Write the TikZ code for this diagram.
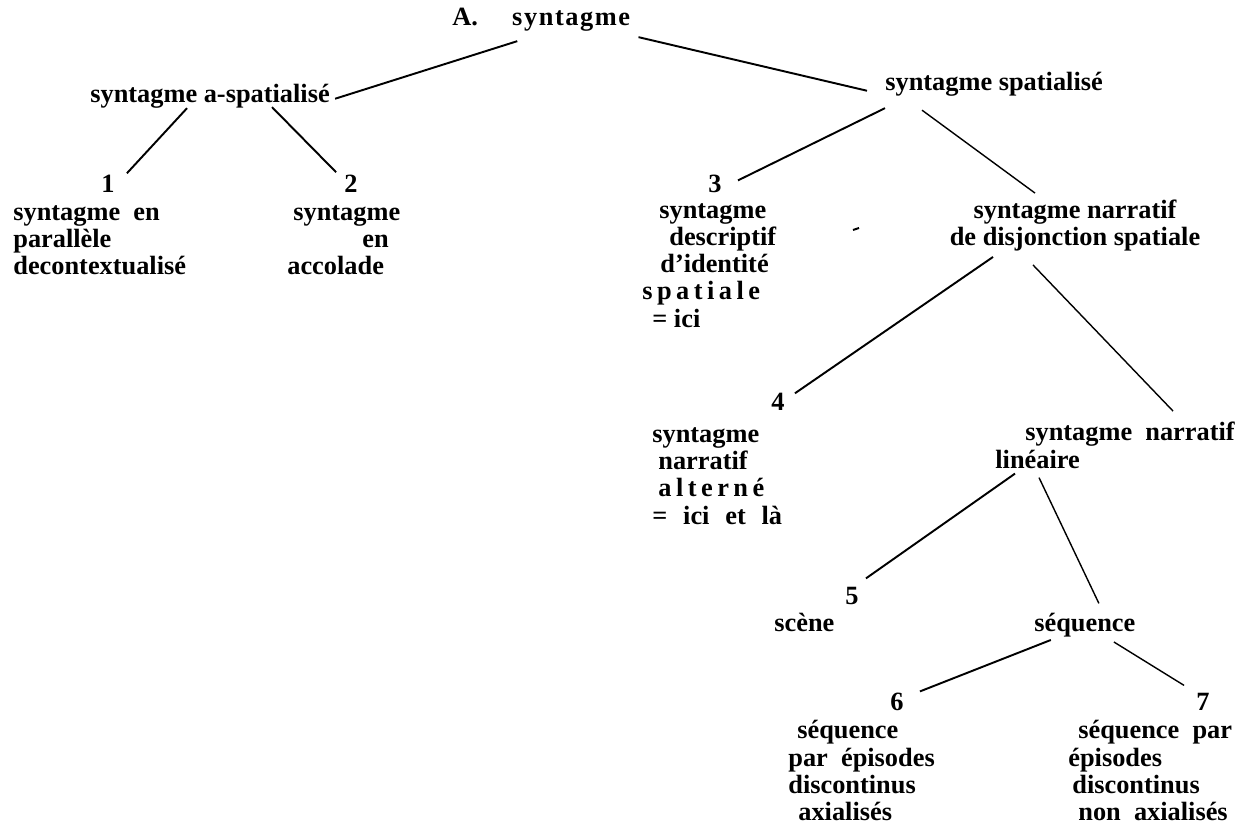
\documentclass[tikz,border=0pt]{standalone}
\usepackage{fontspec}
\setmainfont{Liberation Serif}
\usetikzlibrary{calc}
\newlength\pxu
\setlength\pxu{0.02cm}
\newcommand\widegap{\hspace{0.5em}}

\begin{document}
\begin{tikzpicture}[
    x=0.02cm, y=-0.02cm,
    lbl/.style={font=\fontsize{15}{15.37}\selectfont\bfseries, inner sep=0pt},
    link/.style={line width=1.1pt},
    thinlink/.style={line width=0.8pt}
]
\useasboundingbox (0,0) rectangle (1246,827);

% upper levels
\node[lbl, anchor=base west] (root) at (452,26) {A.\hspace{1.3em}{\addfontfeature{LetterSpace=6}syntagme}};
\node[lbl, anchor=base west] (asp) at (90,103) {syntagme a-spatialisé};
\node[lbl, anchor=base west] (sp) at (885,91) {syntagme spatialisé};

% a-spatialised branch (base = last line)
\node[lbl, anchor=base] (n1) at (108,193) {1};
\node[lbl, anchor=base] (n2) at (351,193) {2};
\node[lbl, anchor=base west, align=left] (t1) at (13,275) {syntagme\widegap en\\parallèle\\decontextualisé};
\node[lbl, anchor=base west, align=left] (t2) at (287,275) {\hspace*{6\pxu}syntagme\\\hspace*{75\pxu}en\\accolade};

% spatialised branch
\node[lbl, anchor=base] (n3) at (715,193) {3};
\node[lbl, anchor=base west, align=left] (t3) at (642,327) {\hspace*{17\pxu}syntagme\\\hspace*{27\pxu}descriptif\\\hspace*{18\pxu}d’identité\\{\addfontfeature{LetterSpace=17}spatiale}\\\hspace*{10\pxu}= ici};
\node[lbl, anchor=base, align=center] (nd) at (1075,246) {syntagme narratif\\de disjonction spatiale};

\node[lbl, anchor=base] (n4) at (778,410) {4};
\node[lbl, anchor=base west, align=left] (t4) at (652,524) {syntagme\\\hspace*{6\pxu}narratif\\\hspace*{6\pxu}{\addfontfeature{LetterSpace=17}alterné}\\=\hspace{0.6em}ici\hspace{0.6em}et\hspace{0.6em}là};
\node[lbl, anchor=base west, align=left] (nl) at (995,468) {\hspace*{30\pxu}syntagme\widegap narratif\\linéaire};

\node[lbl, anchor=base] (n5) at (852,604) {5};
\node[lbl, anchor=base west] (scene) at (774,631) {scène};
\node[lbl, anchor=base west] (seq) at (1034,631) {séquence};

\node[lbl, anchor=base] (n6) at (897,710) {6};
\node[lbl, anchor=base] (n7) at (1203,710) {7};
\node[lbl, anchor=base west, align=left] (t6) at (788,820) {\hspace*{9\pxu}séquence\\par\widegap épisodes\\discontinus\\\hspace*{10\pxu}axialisés};
\node[lbl, anchor=base west, align=left] (t7) at (1068,820) {\hspace*{10\pxu}séquence\widegap par\\épisodes\\\hspace*{4\pxu}discontinus\\\hspace*{10\pxu}non\widegap axialisés};

% connectors
\draw[link] ($(root.south)+(-24,9)$) -- ($(asp.east)+(5,2)$);
\draw[link] ($(root.south east)+(8,5)$) -- ($(sp.west)+(-18,6)$);
\draw[link] ($(asp.south)+(-23,-1)$) -- ($(n1.north east)+(12,-2)$);
\draw[link] ($(asp.south)+(62,-2)$) -- ($(n2.north west)+(-8,-3)$);
\draw[link] ($(sp.south west)+(0,11)$) -- ($(n3.east)+(16,-4)$);
\draw[thinlink] ($(sp.south west)+(37,13)$) -- ($(nd.north)+(-40,-7)$);
\draw[link] ($(nd.south)+(-82,5)$) -- ($(n4.north east)+(10,1)$);
\draw[thinlink] ($(nd.south)+(-42,13)$) -- ($(nl.north east)+(-62,-11)$);
\draw[link] ($(nl.south west)+(20,5)$) -- ($(n5.north east)+(7,-8)$);
\draw[thinlink] ($(nl.south west)+(44,9)$) -- ($(seq.north)+(14,-9)$);
\draw[link] ($(seq.south)+(-34,3)$) -- ($(n6.east)+(16,-10)$);
\draw[thinlink] ($(seq.south)+(29,5)$) -- ($(n7.north west)+(-12,-7)$);

% stray mark
\draw[link] (853,230) -- (859,228);
\end{tikzpicture}
\end{document}
